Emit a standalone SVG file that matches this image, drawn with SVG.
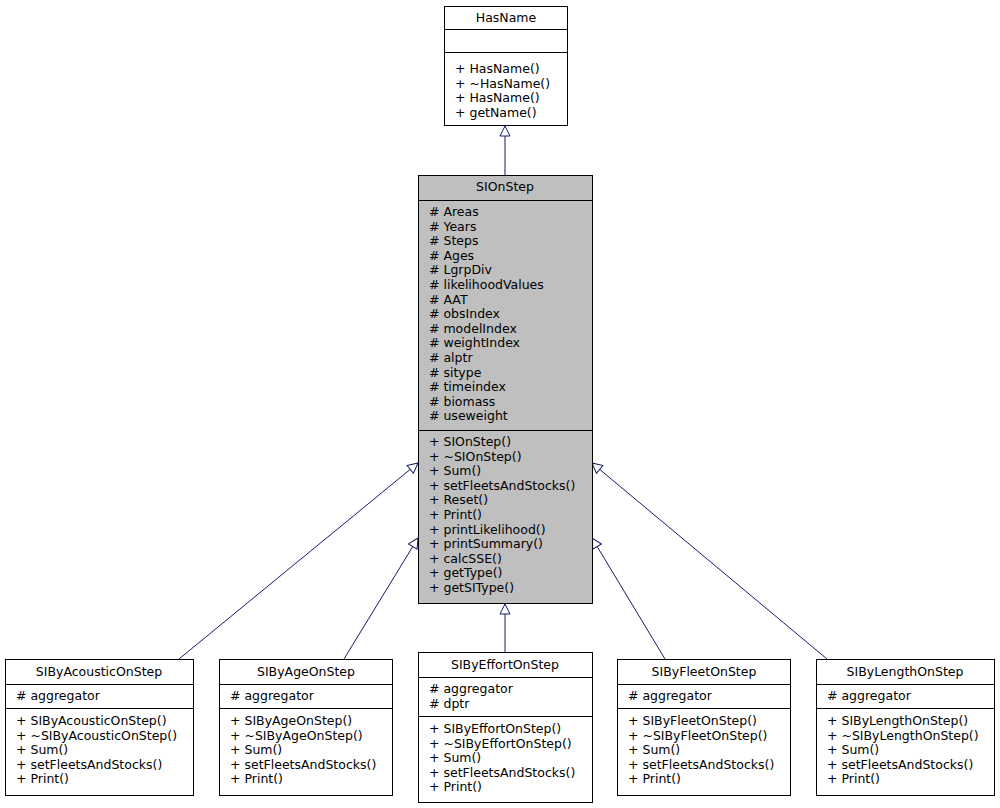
<svg xmlns="http://www.w3.org/2000/svg" width="1000" height="808" viewBox="0 0 1000 808">
<style>
text{font-family:"DejaVu Sans",sans-serif;font-size:12.5px;fill:#000}
.b{fill:#fff;stroke:#000;stroke-width:1}
.g{fill:#bfbfbf;stroke:#000;stroke-width:1}
.s{stroke:#000;stroke-width:1}
.c{fill:none;stroke:#191970;stroke-width:1;marker-end:url(#tri)}
.m{text-anchor:middle}
</style>
<defs>
<marker id="tri" viewBox="0 0 12 12" refX="11" refY="6" markerWidth="12" markerHeight="12" markerUnits="userSpaceOnUse" orient="auto">
<path d="M1,1 L11,6 L1,11 Z" fill="#fff" stroke="#191970"/>
</marker>
</defs>
<g id="connectors">
<path class="c" d="M505,175 L505,126"/>
<path class="c" d="M179,659 L418,463"/>
<path class="c" d="M344,659 L418,538"/>
<path class="c" d="M505,652 L505,604"/>
<path class="c" d="M665,659 L592,538"/>
<path class="c" d="M827,659 L592,463"/>
</g>
<g id="HasName">
<rect class="b" x="444.5" y="6.5" width="123" height="119"/>
<line class="s" x1="444.5" y1="29.5" x2="567.5" y2="29.5"/>
<line class="s" x1="444.5" y1="52.5" x2="567.5" y2="52.5"/>
<text class="m" x="506" y="22">HasName</text>
<text x="455" y="73">+ HasName()</text>
<text x="455" y="88">+ ~HasName()</text>
<text x="455" y="102">+ HasName()</text>
<text x="455" y="117">+ getName()</text>
</g>
<g id="SIOnStep">
<rect class="g" x="418.5" y="175.5" width="174" height="428"/>
<line class="s" x1="418.5" y1="200.5" x2="592.5" y2="200.5"/>
<line class="s" x1="418.5" y1="430.5" x2="592.5" y2="430.5"/>
<text class="m" x="505" y="191">SIOnStep</text>
<text x="429" y="216"># Areas</text>
<text x="429" y="230.6"># Years</text>
<text x="429" y="245.2"># Steps</text>
<text x="429" y="259.8"># Ages</text>
<text x="429" y="274.4"># LgrpDiv</text>
<text x="429" y="289"># likelihoodValues</text>
<text x="429" y="303.6"># AAT</text>
<text x="429" y="318.2"># obsIndex</text>
<text x="429" y="332.8"># modelIndex</text>
<text x="429" y="347.4"># weightIndex</text>
<text x="429" y="362"># alptr</text>
<text x="429" y="376.6"># sitype</text>
<text x="429" y="391.2"># timeindex</text>
<text x="429" y="405.8"># biomass</text>
<text x="429" y="420.4"># useweight</text>
<text x="429" y="446">+ SIOnStep()</text>
<text x="429" y="460.6">+ ~SIOnStep()</text>
<text x="429" y="475.2">+ Sum()</text>
<text x="429" y="489.8">+ setFleetsAndStocks()</text>
<text x="429" y="504.4">+ Reset()</text>
<text x="429" y="519">+ Print()</text>
<text x="429" y="533.6">+ printLikelihood()</text>
<text x="429" y="548.2">+ printSummary()</text>
<text x="429" y="562.8">+ calcSSE()</text>
<text x="429" y="577.4">+ getType()</text>
<text x="429" y="592">+ getSIType()</text>
</g>
<g id="SIByAcousticOnStep">
<rect class="b" x="5.5" y="659.5" width="188" height="136"/>
<line class="s" x1="5.5" y1="684.5" x2="193.5" y2="684.5"/>
<line class="s" x1="5.5" y1="708.5" x2="193.5" y2="708.5"/>
<text class="m" x="99" y="676">SIByAcousticOnStep</text>
<text x="16" y="700"># aggregator</text>
<text x="16" y="725">+ SIByAcousticOnStep()</text>
<text x="16" y="739.6">+ ~SIByAcousticOnStep()</text>
<text x="16" y="754.2">+ Sum()</text>
<text x="16" y="768.8">+ setFleetsAndStocks()</text>
<text x="16" y="783.4">+ Print()</text>
</g>
<g id="SIByAgeOnStep">
<rect class="b" x="219.5" y="659.5" width="173" height="136"/>
<line class="s" x1="219.5" y1="684.5" x2="392.5" y2="684.5"/>
<line class="s" x1="219.5" y1="708.5" x2="392.5" y2="708.5"/>
<text class="m" x="306" y="676">SIByAgeOnStep</text>
<text x="230" y="700"># aggregator</text>
<text x="230" y="725">+ SIByAgeOnStep()</text>
<text x="230" y="739.6">+ ~SIByAgeOnStep()</text>
<text x="230" y="754.2">+ Sum()</text>
<text x="230" y="768.8">+ setFleetsAndStocks()</text>
<text x="230" y="783.4">+ Print()</text>
</g>
<g id="SIByEffortOnStep">
<rect class="b" x="418.5" y="652.5" width="174" height="150"/>
<line class="s" x1="418.5" y1="677.5" x2="592.5" y2="677.5"/>
<line class="s" x1="418.5" y1="716.5" x2="592.5" y2="716.5"/>
<text class="m" x="505" y="669">SIByEffortOnStep</text>
<text x="429" y="693"># aggregator</text>
<text x="429" y="708"># dptr</text>
<text x="429" y="733">+ SIByEffortOnStep()</text>
<text x="429" y="747.6">+ ~SIByEffortOnStep()</text>
<text x="429" y="762.2">+ Sum()</text>
<text x="429" y="776.8">+ setFleetsAndStocks()</text>
<text x="429" y="791.4">+ Print()</text>
</g>
<g id="SIByFleetOnStep">
<rect class="b" x="617.5" y="659.5" width="173" height="136"/>
<line class="s" x1="617.5" y1="684.5" x2="790.5" y2="684.5"/>
<line class="s" x1="617.5" y1="708.5" x2="790.5" y2="708.5"/>
<text class="m" x="704" y="676">SIByFleetOnStep</text>
<text x="628" y="700"># aggregator</text>
<text x="628" y="725">+ SIByFleetOnStep()</text>
<text x="628" y="739.6">+ ~SIByFleetOnStep()</text>
<text x="628" y="754.2">+ Sum()</text>
<text x="628" y="768.8">+ setFleetsAndStocks()</text>
<text x="628" y="783.4">+ Print()</text>
</g>
<g id="SIByLengthOnStep">
<rect class="b" x="816.5" y="659.5" width="178" height="136"/>
<line class="s" x1="816.5" y1="684.5" x2="994.5" y2="684.5"/>
<line class="s" x1="816.5" y1="708.5" x2="994.5" y2="708.5"/>
<text class="m" x="905" y="676">SIByLengthOnStep</text>
<text x="827" y="700"># aggregator</text>
<text x="827" y="725">+ SIByLengthOnStep()</text>
<text x="827" y="739.6">+ ~SIByLengthOnStep()</text>
<text x="827" y="754.2">+ Sum()</text>
<text x="827" y="768.8">+ setFleetsAndStocks()</text>
<text x="827" y="783.4">+ Print()</text>
</g>
</svg>
